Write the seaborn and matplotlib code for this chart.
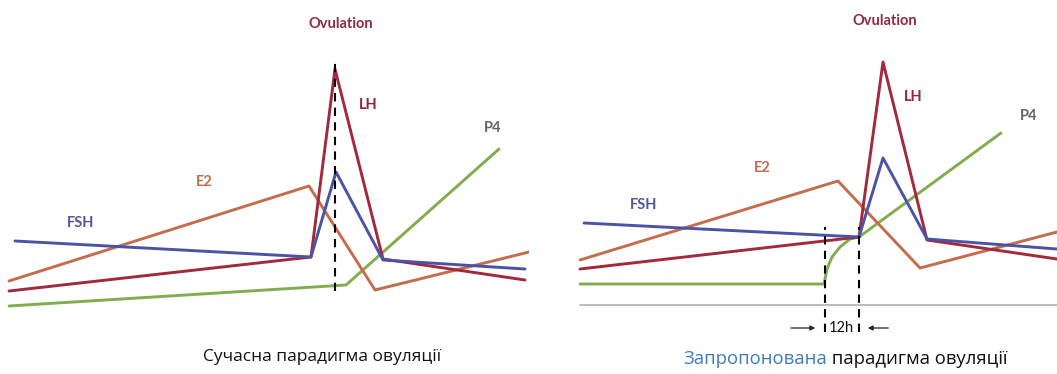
import pandas as pd
import matplotlib.pyplot as plt
import seaborn as sns

# hormone curves, current paradigm (left panel)
cur_lh_t = [9, 311, 335, 383, 525]
cur_lh = [83, 117, 305, 115, 94]
cur_fsh_t = [15, 311, 336, 383, 525]
cur_fsh = [133, 117, 202, 114, 105]
cur_e2_t = [9, 309, 375, 529]
cur_e2 = [93, 188, 84, 122]
cur_p4_t = [9, 346, 499]
cur_p4 = [68, 89, 225]

# proposed paradigm (right panel)
new_lh_t = [580, 859, 883, 927, 1057]
new_lh = [105, 137, 312, 134, 115]
new_fsh_t = [584, 859, 883, 927, 1057]
new_fsh = [151, 137, 216, 135, 125]
new_e2_t = [580, 838, 920, 1057]
new_e2 = [114, 193, 106, 142]
new_p4_t = [580, 824, 827, 832, 840, 850, 859, 1001]
new_p4 = [90, 90, 105, 117, 127, 135, 137, 241]

hormones = ["P4", "E2", "LH", "FSH"]
line_colors = {"LH": "#a3293c", "FSH": "#4b53a5", "E2": "#c46c4b", "P4": "#82ad4e"}
label_colors = {"LH": "#8c2838", "FSH": "#55559a", "E2": "#c07050", "P4": "#666666"}

ovulation_t = 335
surge_t = [824.5, 859]


def long_df(series):
    rows = []
    for name, (t, v) in series.items():
        for i, (a, b) in enumerate(zip(t, v)):
            rows.append({"hormone": name, "step": i, "t": a, "level": b})
    return pd.DataFrame(rows)


cur_df = long_df({"P4": (cur_p4_t, cur_p4), "E2": (cur_e2_t, cur_e2),
                  "LH": (cur_lh_t, cur_lh), "FSH": (cur_fsh_t, cur_fsh)})
new_df = long_df({"P4": (new_p4_t, new_p4), "E2": (new_e2_t, new_e2),
                  "LH": (new_lh_t, new_lh), "FSH": (new_fsh_t, new_fsh)})

sns.set_theme(style="white")
plt.rcParams["font.family"] = ["Open Sans", "DejaVu Sans"]

fig = plt.figure(figsize=(10.57, 3.74), dpi=100)
ax1 = fig.add_axes([0, 0, 0.5, 1])
ax2 = fig.add_axes([0.5, 0, 0.5, 1])

for ax, df in [(ax1, cur_df), (ax2, new_df)]:
    sns.lineplot(data=df, x="t", y="level", hue="hormone", hue_order=hormones,
                 palette=line_colors, sort=False, estimator=None, units="hormone",
                 linewidth=2.1, legend=False, ax=ax)
    ax.set_ylim(0, 374)
    ax.set_axis_off()

ax1.set_xlim(0, 528.5)
ax2.set_xlim(528.5, 1057)

# labels in a Calibri-like face
lab = dict(fontsize=10.5, fontweight="bold", ha="center", va="center",
           family=["Lato", "Open Sans", "DejaVu Sans"])

# left panel annotations
ax1.plot([ovulation_t, ovulation_t], [83, 315], color="black", lw=1.5, ls=(0, (4, 3)))
ax1.text(341, 350, "Ovulation", color="#8c2c40", **lab)
ax1.text(81, 151, "FSH", color=label_colors["FSH"], **lab)
ax1.text(204, 192, "E2", color=label_colors["E2"], **lab)
ax1.text(368, 269, "LH", color=label_colors["LH"], **lab)
ax1.text(493, 246, "P4", color=label_colors["P4"], **lab)
ax1.text(322, 17, "Сучасна парадигма овуляції", fontsize=12.5, ha="center",
         va="center", color="#111111")

# right panel annotations
ax2.plot([580, 1057], [69, 69], color="#b0b0b0", lw=1.2)
for x in surge_t:
    ax2.plot([x, x], [42, 147], color="black", lw=1.5, ls=(0, (4, 3)))
ax2.text(885, 353, "Ovulation", color="#8c2c40", **lab)
ax2.text(644, 169, "FSH", color=label_colors["FSH"], **lab)
ax2.text(762, 206, "E2", color=label_colors["E2"], **lab)
ax2.text(913, 277, "LH", color=label_colors["LH"], **lab)
ax2.text(1029, 258, "P4", color=label_colors["P4"], **lab)
ax2.text(841.5, 46, "12h", fontsize=10.5, ha="center", va="center", color="#111111",
         family=["Lato", "Open Sans", "DejaVu Sans"])
ax2.annotate("", xy=(818, 46), xytext=(788, 46),
             arrowprops=dict(arrowstyle="-|>", color="#222222", lw=0.9, mutation_scale=7))
ax2.annotate("", xy=(865, 46), xytext=(891, 46),
             arrowprops=dict(arrowstyle="-|>", color="#222222", lw=0.9, mutation_scale=7))
t1 = ax2.text(683, 15, "Запропонована", fontsize=13.3, ha="left", va="center",
              color="#3d7bbf")
ax2.annotate(" парадигма овуляції", xy=(1, 0), xycoords=t1, ha="left", va="bottom",
             fontsize=13.3, color="#111111")

fig.savefig("out.png", dpi=100)
